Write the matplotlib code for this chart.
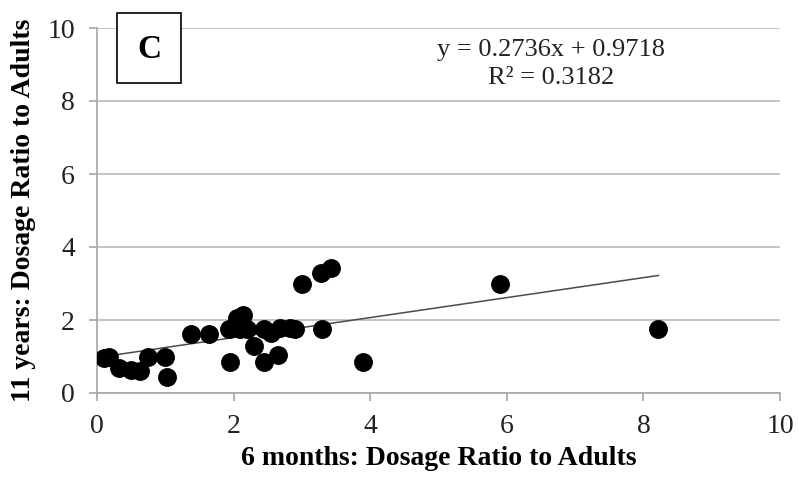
import matplotlib
matplotlib.use("Agg")
import matplotlib.pyplot as plt
from matplotlib.patches import Rectangle
import numpy as np

# 6 months vs 11 years dosage ratios
x_6mo = [0.10, 0.17, 0.32, 0.50, 0.63, 0.75, 1.00, 1.02, 1.38, 1.64,
         1.93, 1.95, 2.05, 2.14, 2.10, 2.20, 2.30, 2.44, 2.44, 2.55,
         2.65, 2.68, 2.83, 2.90, 3.00, 3.28, 3.43, 3.29, 3.90, 5.90, 8.22]
y_11yr = [0.95, 1.00, 0.68, 0.62, 0.60, 1.00, 1.00, 0.43, 1.63, 1.63,
          1.75, 0.86, 2.05, 2.15, 1.75, 1.75, 1.30, 0.86, 1.75, 1.65,
          1.05, 1.77, 1.77, 1.75, 3.00, 3.30, 3.42, 1.75, 0.86, 2.98, 1.75]

slope = 0.2736
intercept = 0.9718
r2 = 0.3182

x_ticks = [0, 2, 4, 6, 8, 10]
y_ticks = [0, 2, 4, 6, 8, 10]

W, H = 798, 479
plt.rcParams["font.family"] = ["Liberation Serif", "DejaVu Serif"]

fig = plt.figure(figsize=(W / 100, H / 100), dpi=100)
ax = fig.add_axes([97 / W, 1 - 393 / H, 683 / W, 365 / H])

ax.scatter(x_6mo, y_11yr, s=185, color="black", zorder=3, linewidths=0)

xs = np.array([min(x_6mo), max(x_6mo)])
ax.plot(xs, slope * xs + intercept, color="#4a4a4a", lw=1.1, zorder=2)

ax.set_xlim(0, 10)
ax.set_ylim(0, 10)
ax.set_xticks(x_ticks)
ax.set_yticks(y_ticks)
ax.grid(axis="y", color="#c4c4c4", lw=1.4)
ax.set_axisbelow(True)
for side in ["top", "right"]:
    ax.spines[side].set_visible(False)
for side in ["left", "bottom"]:
    ax.spines[side].set_color("#a6a6a6")
    ax.spines[side].set_linewidth(1.2)
ax.tick_params(axis="both", direction="out", length=6, width=1.2, color="#a6a6a6",
               labelsize=20, labelcolor="#222222")
ax.tick_params(axis="x", pad=9)
ax.tick_params(axis="y", pad=10)

ax.set_xlabel("6 months: Dosage Ratio to Adults", fontsize=20, fontweight="bold")
ax.set_ylabel("11 years: Dosage Ratio to Adults", fontsize=20, fontweight="bold")
ax.xaxis.set_label_coords(0.5, -0.145)
ax.yaxis.set_label_coords(-0.089, 0.5)

# panel tag box
fig.patches.append(Rectangle((117 / W, 1 - 83 / H), 64 / W, 70 / H, transform=fig.transFigure,
                             fc="white", ec="black", lw=1.2, zorder=5))
fig.text(149 / W, 1 - 49 / H, "C", ha="center", va="center", fontsize=24,
         fontweight="bold", zorder=6)

ax.text((551 - 97) / 683, (393 - 64) / 365,
        f"y = {slope}x + {intercept}\nR² = {r2}",
        transform=ax.transAxes, ha="center", va="center", fontsize=19, color="#222222",
        linespacing=1.35)

fig.savefig("out.png", dpi=100)
